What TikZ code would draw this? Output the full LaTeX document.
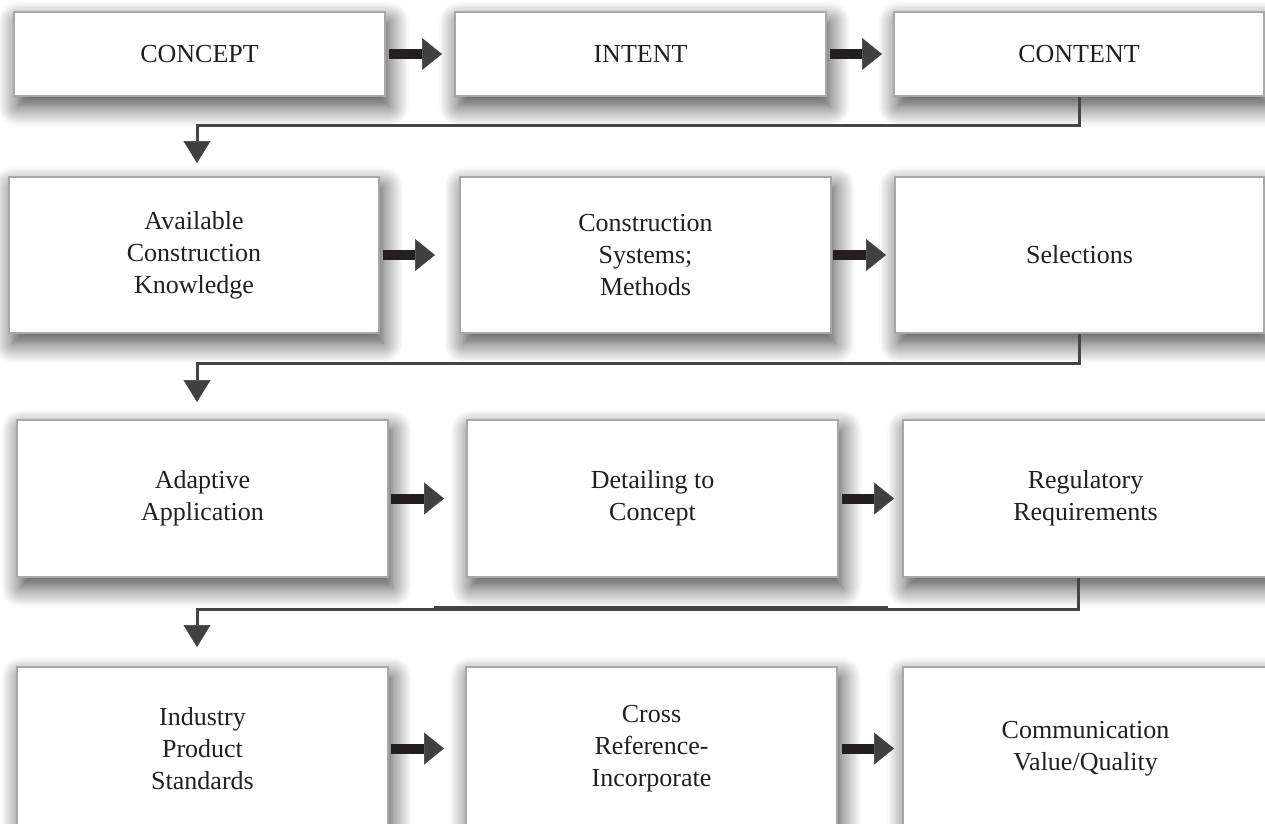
\documentclass[tikz,border=0pt]{standalone}
\usepackage{fontspec}
\setmainfont{Liberation Serif}
\usetikzlibrary{arrows.meta,shadows.blur,calc}
\definecolor{inkcol}{HTML}{231F20}
\definecolor{framecol}{HTML}{A8A8A8}
\definecolor{linecol}{HTML}{454545}
\definecolor{headcol}{HTML}{404040}
\begin{document}
\begin{tikzpicture}[x=1pt,y=-1pt,
  box/.style={draw=framecol, line width=2pt, fill=white, text=inkcol,
    align=center, inner sep=0pt, font=\fontsize{26}{32}\selectfont,
    blur shadow={shadow xshift=4pt, shadow yshift=-10pt,
      shadow blur radius=20pt, shadow blur steps=12, shadow opacity=75}},
  flow/.style={draw=inkcol, line width=10pt, shorten <=3pt,
    -{Triangle[length=20pt,width=32pt,line width=0.5pt,color=headcol]}},
  drop/.style={draw=linecol, line width=3pt,
    -{Triangle[length=22pt,width=27pt,line width=0.5pt,color=headcol]}}]
\useasboundingbox (0,0) rectangle (1265,823);

% row 1
\node[box, minimum width=371pt, minimum height=84pt] (concept) at (199.5,54) {CONCEPT};
\node[box, minimum width=371pt, minimum height=84pt] (intent) at (640.5,54) {INTENT};
\node[box, minimum width=370pt, minimum height=84pt] (content) at (1079,54) {CONTENT};

% row 2
\node[box, minimum width=370pt, minimum height=156pt] (knowledge) at (194,255) {Available\\Construction\\Knowledge};
\node[box, minimum width=371pt, minimum height=156pt] (systems) at (645.5,255) {Construction\\Systems;\\Methods};
\node[box, minimum width=369pt, minimum height=156pt] (selections) at (1079.5,255) {Selections};

% row 3
\node[box, minimum width=371pt, minimum height=157pt] (adaptive) at (202.5,498.5) {Adaptive\\Application};
\node[box, minimum width=371pt, minimum height=157pt] (detailing) at (652.5,498.5) {Detailing to\\Concept};
\node[box, minimum width=365pt, minimum height=157pt] (regulatory) at (1085.5,498.5) {Regulatory\\Requirements};

% row 4
\node[box, minimum width=371pt, minimum height=163pt] (industry) at (202.5,748.5) {Industry\\Product\\Standards};
\node[box, minimum width=371pt, minimum height=163pt] (cross) at (651.5,748.5) {Cross\\Reference-\\Incorporate};
\node[box, minimum width=365pt, minimum height=163pt] (communication) at (1085.5,748.5) {Communication\\Value/Quality};

% arrows along each row
\draw[flow, shorten >=12pt] (concept) -- (intent);
\draw[flow, shorten >=11pt] (intent) -- (content);
\draw[flow, shorten >=24pt] (knowledge) -- (systems);
\draw[flow, shorten <=1pt, shorten >=8pt] (systems) -- (selections);
\draw[flow, shorten <=2pt, shorten >=22pt] (adaptive) -- (detailing);
\draw[flow, shorten >=8pt] (detailing) -- (regulatory);
\draw[flow, shorten <=2pt, shorten >=21pt] (industry) -- (cross);
\draw[flow, shorten <=4pt, shorten >=8pt] (cross) -- (communication);

% returns from the end of one row to the start of the next
\draw[drop, shorten >=13pt] (content.south) -- ++(0,28) -| ([xshift=3pt]knowledge.north);
\draw[drop, shorten >=17pt] (selections.south) -- ++(0,29) -| ([xshift=-5.5pt]adaptive.north);
\draw[drop, shorten >=19pt] ([xshift=-7.5pt]regulatory.south) -- ++(0,31) -| ([xshift=-5.5pt]industry.north);

% heavier stretch on the third return line
\coordinate (heavyA) at (434,608);
\coordinate (heavyB) at (888,608);
\draw[linecol, line width=4.5pt] (heavyA) -- (heavyB);
\end{tikzpicture}
\end{document}
